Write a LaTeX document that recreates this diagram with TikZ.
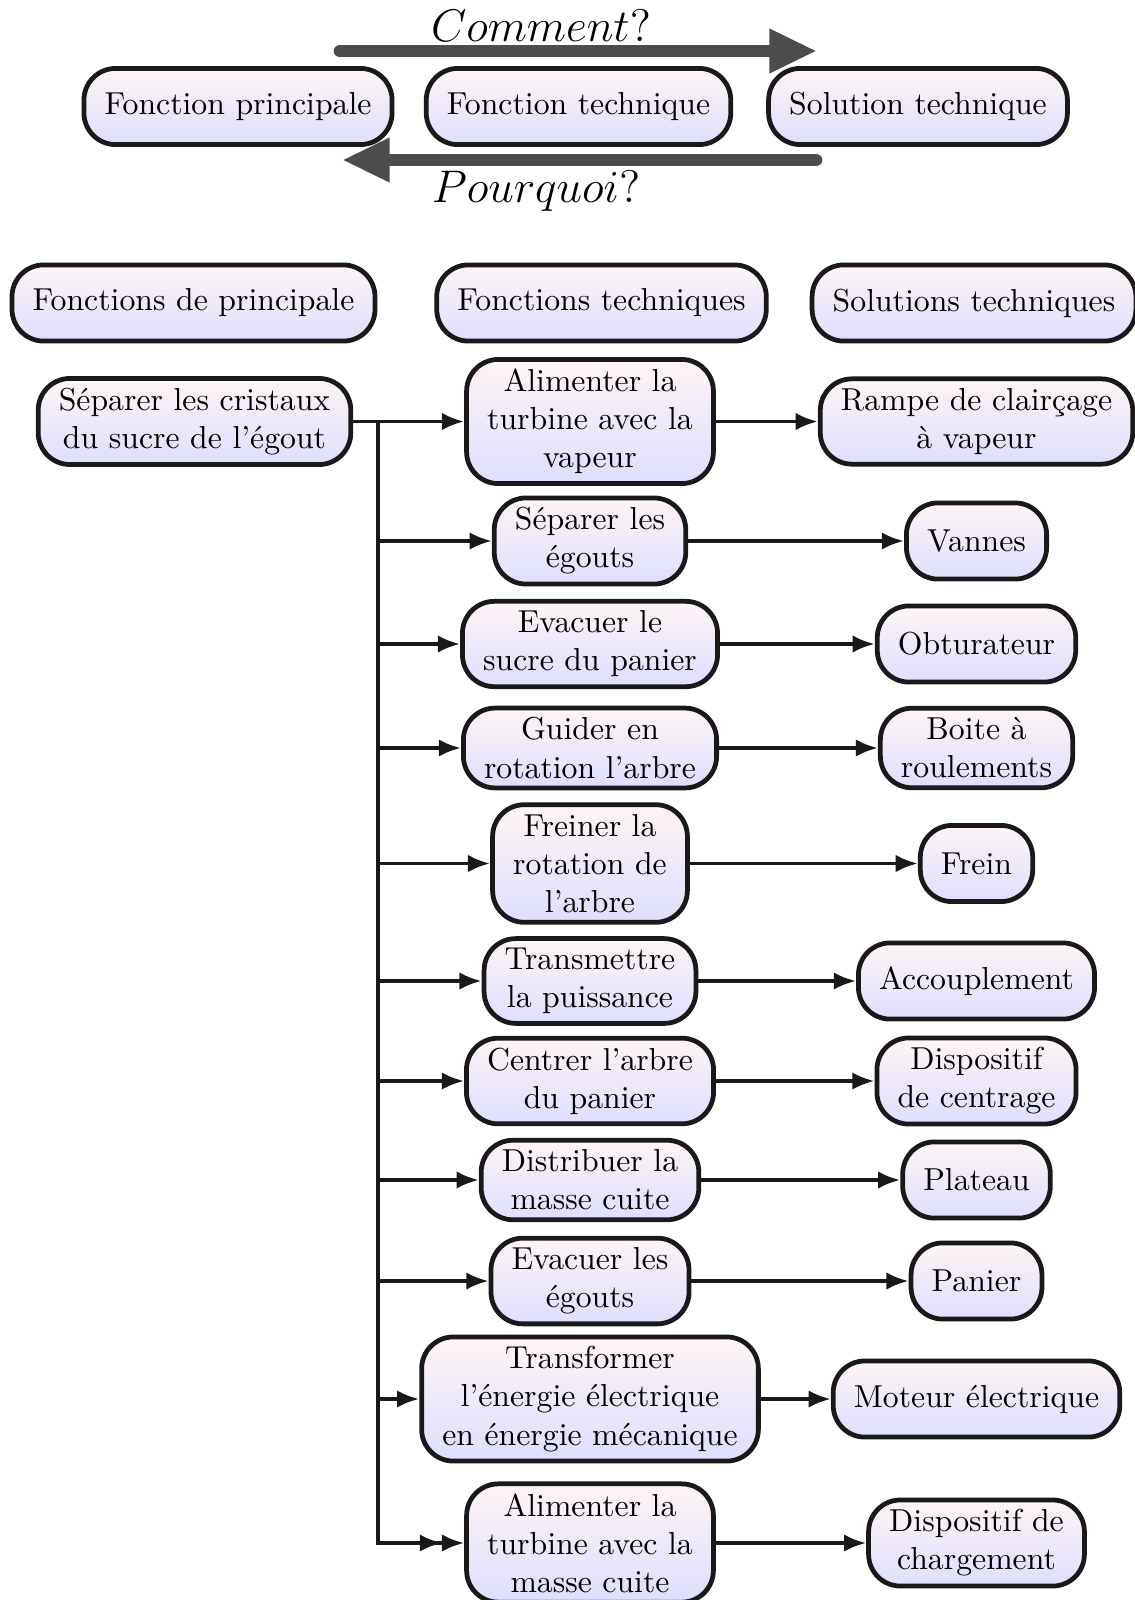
\documentclass[tikz,border=0pt]{standalone}
\usetikzlibrary{arrows.meta}
\tikzset{
 box/.style={draw=black!90, line width=1.5pt, rounded corners=10pt, top color=red!4, bottom color=blue!13, align=center, inner xsep=6.5pt, inner ysep=3pt, minimum height=24pt},
 conn/.style={line width=1.2pt, draw=black!90, -{Latex[length=7pt,width=5.5pt]}},
 dconn/.style={line width=1.2pt, draw=black!90, -{Latex[length=7pt,width=5.5pt]Latex[length=7pt,width=5.5pt]}},
 big/.style={line width=4pt, draw=black!70, line cap=round, -{Triangle[length=15pt,width=13pt]}},
 lbl/.style={font=\Large}
}
\begin{document}
\begin{tikzpicture}[x=0.315pt,y=-0.315pt]
\useasboundingbox (0,0) rectangle (1134,1600);
% top
\coordinate (ca) at (340,51);
\coordinate (cb) at (817,51);
\coordinate (pa) at (816,160);
\coordinate (pb) at (342,160);
\draw[big] (ca) -- (cb);
\draw[big] (pa) -- (pb);
\node[lbl] (comment) at (541,26) {$Comment?$};
\node[lbl] (pourquoi) at (536,191) {$Pourquoi?$};
\node[box] (tp) at (238,106.5) {Fonction principale};
\node[box] (tt) at (578.5,106.5) {Fonction technique};
\node[box] (ts) at (918,106.5) {Solution technique};
% headers
\node[box] (h1) at (193.5,303) {Fonctions de principale};
\node[box] (h2) at (601.5,303) {Fonctions techniques};
\node[box] (h3) at (974,303) {Solutions techniques};
% main
\node[box] (main) at (194.5,421.5) {Séparer les cristaux\\du sucre de l'égout};
% column 2
\node[box] (f1) at (590,421.5) {Alimenter la\\turbine avec la\\vapeur};
\node[box] (f2) at (590,541) {Séparer les\\égouts};
\node[box] (f3) at (590,644) {Evacuer le\\sucre du panier};
\node[box] (f4) at (590,748) {Guider en\\rotation l'arbre};
\node[box] (f5) at (590,863.5) {Freiner la\\rotation de\\l'arbre};
\node[box] (f6) at (590,981) {Transmettre\\la puissance};
\node[box] (f7) at (590,1081) {Centrer l'arbre\\du panier};
\node[box] (f8) at (590,1180) {Distribuer la\\masse cuite};
\node[box] (f9) at (590,1281) {Evacuer les\\égouts};
\node[box] (f10) at (590,1399) {Transformer\\l'énergie électrique\\en énergie mécanique};
\node[box] (f11) at (590,1543) {Alimenter la\\turbine avec la\\masse cuite};
% column 3
\node[box] (s1) at (976.5,421.5) {Rampe de clairçage\\à vapeur};
\node[box] (s2) at (976.5,541) {Vannes};
\node[box] (s3) at (976.5,644) {Obturateur};
\node[box] (s4) at (976.5,748) {Boite à\\roulements};
\node[box] (s5) at (976.5,863.5) {Frein};
\node[box] (s6) at (976.5,981) {Accouplement};
\node[box] (s7) at (976.5,1081) {Dispositif\\de centrage};
\node[box] (s8) at (976.5,1180) {Plateau};
\node[box] (s9) at (976.5,1281) {Panier};
\node[box] (s10) at (976.5,1399) {Moteur électrique};
\node[box] (s11) at (976.5,1543) {Dispositif de\\chargement};
% connectors
\coordinate (bus) at (378,421.5);
\draw[conn] (main.east) -- (f1.west);
\foreach \i in {2,...,10} {\draw[conn] (bus) |- (f\i.west);}
\draw[dconn] (bus) |- (f11.west);
\foreach \i in {1,...,11} {\draw[conn] (f\i.east) -- (s\i.west);}
\end{tikzpicture}
\end{document}
